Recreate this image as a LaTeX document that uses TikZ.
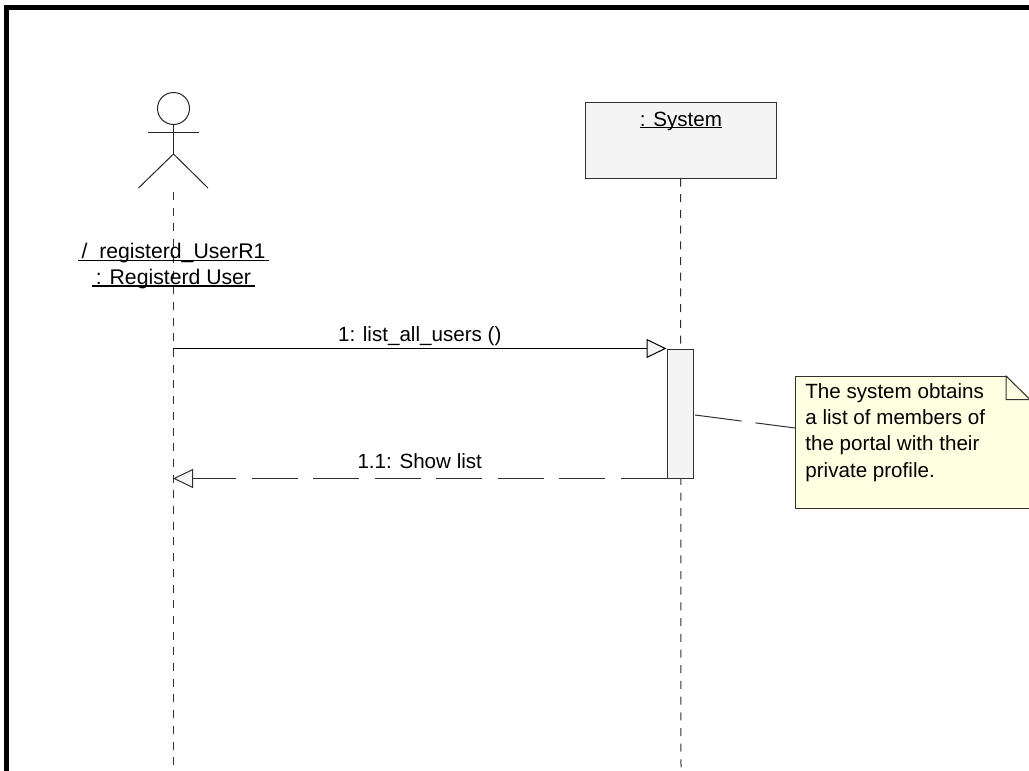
\documentclass[tikz,border=0pt]{standalone}
\usepackage{xcolor}
\usepackage{fontspec}
\setmainfont{Liberation Sans}
\usetikzlibrary{positioning,arrows.meta}
\definecolor{boxgray}{HTML}{F4F4F4}
\definecolor{noteyellow}{HTML}{FFFFE1}
\definecolor{edgegray}{HTML}{303030}
% rule drawn #1 below the baseline of the text #2
\newcommand{\umlname}[2]{\setbox0\hbox{#2}\rlap{\rule[-#1]{\wd0}{.65pt}}\box0}
\tikzset{
  lifeline/.style={draw=edgegray,line width=.5pt,dash pattern=on 4pt off 3.85pt},
  stick/.style={draw=black!85,line width=.5pt},
  umlbox/.style={draw=edgegray,fill=boxgray,line width=.5pt,inner sep=0pt},
  umltext/.style={inner sep=0pt,font=\fontsize{10.3}{13}\selectfont},
  callmsg/.style={draw=black,line width=.5pt,-{Triangle[length=10pt,width=9.5pt,fill=boxgray]}},
  returnmsg/.style={draw=edgegray,line width=.5pt,dash pattern=on 23pt off 7.75pt,-{Triangle[length=10pt,width=9.5pt,fill=boxgray]}},
  notelink/.style={draw=edgegray,line width=.5pt,dash pattern=on 23.5pt off 7pt},
}
\begin{document}
\begin{tikzpicture}[x=.5pt,y=-.5pt]
    \useasboundingbox (0,0) rectangle (1029,771);
    % frame
    \draw[line width=2.6pt] (6.5,771) -- (6.5,7.5) -- (1029,7.5);
    % actor
    \node[circle,stick,minimum size=16pt,inner sep=0pt] (head) at (173.5,108.5) {};
    \coordinate (hip) at (173.5,154);
    \coordinate (armL) at (148,132.5);
    \coordinate (armR) at (198.5,132.5);
    \coordinate (footL) at (138.5,188);
    \coordinate (footR) at (208,188);
    \draw[stick] (head.south) -- (hip);
    \draw[stick] (armL) -- (armR);
    \draw[stick] (footL) -- (hip) -- (footR);
    % system and activation
    \node[umlbox,minimum width=95.5pt,minimum height=38pt] (system) at (680.5,140) {};
    \node[umltext,anchor=base] (systemname) at (681,126) {\umlname{1.1pt}{: System}};
    \coordinate (userTop) at (173,192);
    \coordinate (userEnd) at (173,771);
    \coordinate (systemEnd) at (681,771);
    \draw[lifeline] (userTop) -- (userEnd);
    \draw[lifeline] (system.south) -- (systemEnd);
    \node[umlbox,minimum width=13.25pt,minimum height=64.5pt] (act) at (680.25,413.5) {};
    % actor names
    \node[umltext,anchor=base,font=\fontsize{10.6}{13}\selectfont] (username) at (173.5,258) {\umlname{1.6pt}{\,/ \ registerd\_UserR1\,}};
    \node[umltext,anchor=base,font=\fontsize{10.6}{13}\selectfont] (usertype) at (173.5,284.5) {\umlname{1.1pt}{\,: Registerd User\,}};
    % messages
    \draw[callmsg] (userTop |- act.north west) -- (act.north west)
        node[umltext,pos=.5,above=1pt] (listmsg) {1: list\_all\_users ()};
    \draw[returnmsg] (act.south west) -- (userTop |- act.south west)
        node[umltext,pos=.5,above=4.5pt] (showmsg) {1.1: Show list};
    % note
    \node[draw=edgegray,fill=noteyellow,line width=.5pt,minimum width=117pt,minimum height=66pt,
          inner sep=0pt,anchor=north west] (note) at (795,376) {};
    \fill[white] ([xshift=-12pt,yshift=.5pt]note.north east) -- ([xshift=1pt,yshift=.5pt]note.north east)
        -- ([xshift=1pt,yshift=-11pt]note.north east) -- cycle;
    \draw[draw=edgegray,line width=.5pt] ([xshift=-12pt]note.north east) -- ++(0,23.5) -- ([yshift=-11.75pt]note.north east) -- cycle;
    \node[umltext,anchor=north west,align=left,font=\fontsize{10.3}{13.15}\selectfont] (notetext) at (805,383)
        {The system obtains\\a list of members of\\the portal with their\\private profile.};
    \coordinate (actlink) at (695,415);
    \coordinate (notelinkend) at (795,428);
    \draw[notelink] (actlink) -- (notelinkend);
\end{tikzpicture}
\end{document}
